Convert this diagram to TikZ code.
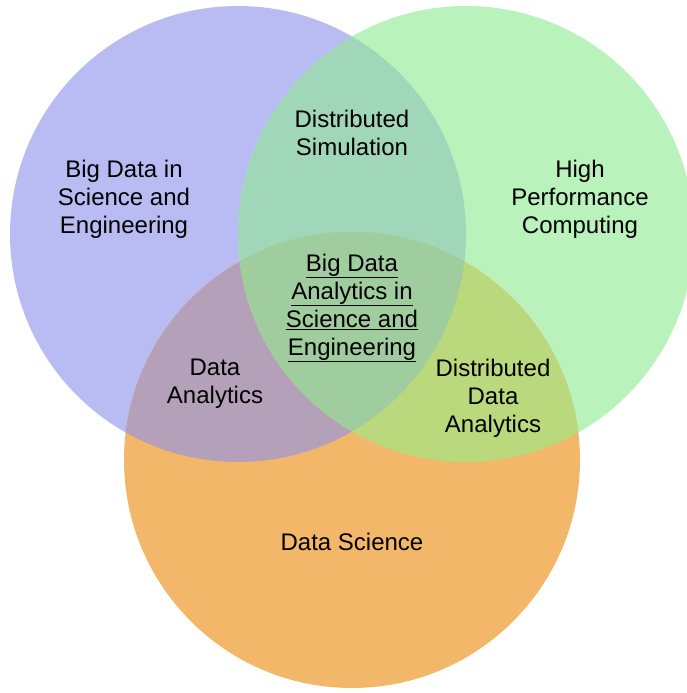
\documentclass[tikz,border=0pt]{standalone}
\usepackage{fontspec}
\setmainfont{Liberation Sans}

\definecolor{bluecirc}{RGB}{185,187,243}
\definecolor{greencirc}{RGB}{185,242,187}
\definecolor{orangecirc}{RGB}{243,183,106}
\definecolor{bluegreen}{RGB}{160,215,184}
\definecolor{blueorange}{RGB}{181,160,185}
\definecolor{greenorange}{RGB}{186,216,124}
\definecolor{allthree}{RGB}{160,205,158}

\begin{document}
\begin{tikzpicture}[x = 1pt, y = -1pt,
    set/.style = {radius = 228pt},
    lbl/.style = {align = center, inner sep = 0pt, text = black,
                  font = \fontsize{24}{28}\selectfont}]
  \useasboundingbox (0,0) rectangle (686,693);
  \coordinate (bigsci) at (238,234);
  \coordinate (hpc) at (466,234);
  \coordinate (datasci) at (352,460);

  % the three sets
  \fill [bluecirc] (bigsci) circle [set];
  \fill [greencirc] (hpc) circle [set];
  \fill [orangecirc] (datasci) circle [set];

  % overlaps
  \begin{scope}
    \clip (bigsci) circle [set];
    \fill [bluegreen] (hpc) circle [set];
    \fill [blueorange] (datasci) circle [set];
    \clip (hpc) circle [set];
    \fill [allthree] (datasci) circle [set];
  \end{scope}
  \begin{scope}
    \clip (hpc) circle [set];
    \clip (datasci) circle [set];
    \fill [greenorange] (datasci) circle [set];
    \clip (bigsci) circle [set];
    \fill [allthree] (datasci) circle [set];
  \end{scope}

  \node (bigsciL) [lbl] at (124,199) {Big Data in\\Science and\\Engineering};
  \node (hpcL) [lbl] at (580,199) {High\\Performance\\Computing};
  \node (datasciL) [lbl] at (352,542) {Data Science};
  \node (distsim) [lbl] at (352,133) {Distributed\\Simulation};
  \node (dataana) [lbl] at (215,384) {Data\\Analytics};
  \node (distdata) [lbl] at (493,398) {Distributed\\Data\\Analytics};
  \node (centre) [lbl] at (352,308) {\underline{Big Data}\\\underline{Analytics in}\\\underline{Science and}\\\underline{Engineering}};
\end{tikzpicture}
\end{document}
